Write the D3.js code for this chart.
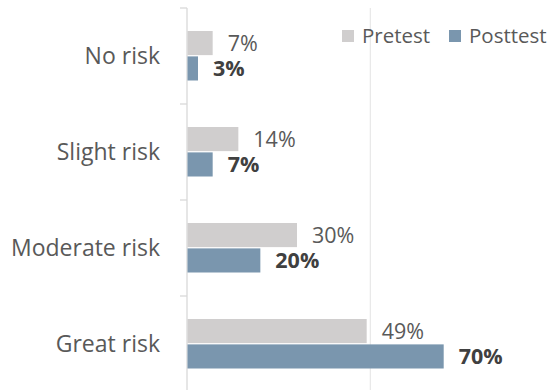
<!DOCTYPE html>
<html>
<head>
<meta charset="utf-8">
<script src="https://cdn.jsdelivr.net/npm/d3@7"></script>
<style>
  html, body { margin: 0; padding: 0; background: #fff; }
  svg { display: block; font-family: "Open Sans", sans-serif; }
</style>
</head>
<body>
<svg id="chart" width="550" height="390"></svg>
<script>
// Perceived risk, before and after the intervention
const categories = ["No risk", "Slight risk", "Moderate risk", "Great risk"];
const series = ["Pretest", "Posttest"];
const pretest = [7, 14, 30, 49];
const posttest = [3, 7, 20, 70];
const gridValues = [50];

const colors = { Pretest: "#d0cece", Posttest: "#7a96ae" };

const svg = d3.select("#chart");
const W = 550, H = 390;
const x0 = 187;

const x = d3.scaleLinear().domain([0, 100]).range([x0, x0 + 366.7]);
const y = d3.scaleBand().domain(categories).range([8, 392]);
const ySub = d3.scaleBand().domain(series).range([23, 72.5]).paddingInner(0.05);

// gridlines
svg.selectAll("line.grid").data(gridValues).join("line")
  .attr("x1", d => x(d)).attr("x2", d => x(d))
  .attr("y1", 8).attr("y2", H)
  .attr("stroke", "#e8e8e8").attr("stroke-width", 1.2);

// category axis with ticks between categories
const tickYs = categories.map(c => y(c));
svg.append("line")
  .attr("x1", x(0)).attr("x2", x(0)).attr("y1", y.range()[0]).attr("y2", H)
  .attr("stroke", "#d9d9d9").attr("stroke-width", 1.3);
svg.selectAll("line.tick").data(tickYs).join("line")
  .attr("x1", x(0) - 7).attr("x2", x(0))
  .attr("y1", d => d).attr("y2", d => d)
  .attr("stroke", "#d9d9d9").attr("stroke-width", 1.3);

svg.selectAll("text.cat").data(categories).join("text")
  .attr("x", 160)
  .attr("y", d => y(d) + y.bandwidth() / 2)
  .attr("dy", "0.35em")
  .attr("text-anchor", "end")
  .attr("fill", "#595959")
  .attr("font-size", 23)
  .text(d => d);

const rows = categories.map((c, i) => [
  { cat: c, s: "Pretest", v: pretest[i] },
  { cat: c, s: "Posttest", v: posttest[i] }
]).flat();

svg.selectAll("rect.bar").data(rows).join("rect")
  .attr("x", x(0) + 0.5)
  .attr("y", d => y(d.cat) + ySub(d.s))
  .attr("width", d => x(d.v) - x(0) - 0.5)
  .attr("height", ySub.bandwidth())
  .attr("fill", d => colors[d.s]);

svg.selectAll("text.val").data(rows).join("text")
  .attr("x", d => x(d.v) + 15)
  .attr("y", d => y(d.cat) + ySub(d.s) + ySub.bandwidth() / 2)
  .attr("dy", "0.36em")
  .attr("fill", d => d.s === "Pretest" ? "#595959" : "#404040")
  .attr("font-weight", d => d.s === "Pretest" ? "normal" : "bold")
  .attr("font-size", 21.5)
  .text(d => d.v + "%");

// legend
const legend = [
  { s: "Pretest", x: 342 },
  { s: "Posttest", x: 449 }
];
const lg = svg.selectAll("g.leg").data(legend).join("g")
  .attr("transform", d => `translate(${d.x},30)`);
lg.append("rect").attr("width", 12).attr("height", 12).attr("fill", d => colors[d.s]);
lg.append("text").attr("x", 20).attr("y", 6).attr("dy", "0.36em")
  .attr("fill", "#595959").attr("font-size", 20.5).text(d => d.s);
</script>
</body>
</html>
